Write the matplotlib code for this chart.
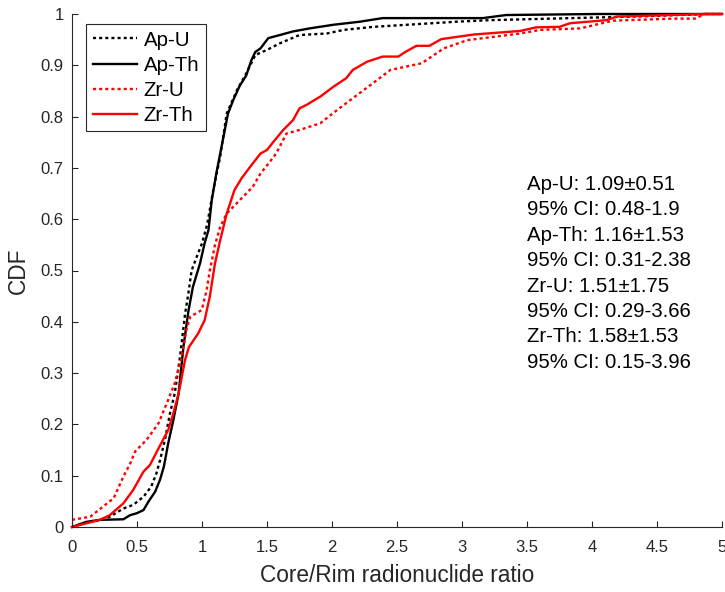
import matplotlib
matplotlib.use("Agg")
import matplotlib.pyplot as plt

plt.rcParams['font.family'] = ['Liberation Sans', 'DejaVu Sans']

# CDF curves (x = core/rim ratio, y = CDF)
ap_u_x = [0, 0.1, 0.2, 0.29, 0.395, 0.47, 0.55, 0.61, 0.65, 0.677, 0.715, 0.754, 0.79, 0.83,
          0.87, 0.895, 0.92, 0.96, 1.0, 1.04, 1.087, 1.14, 1.19, 1.27, 1.34, 1.41, 1.50, 1.60,
          1.75, 1.96, 2.09, 2.32, 2.96, 3.215, 4.32, 4.88, 5.0]
ap_u_y = [0, 0.008, 0.013, 0.02, 0.036, 0.043, 0.059, 0.079, 0.105, 0.13, 0.17, 0.222, 0.26, 0.33,
          0.416, 0.455, 0.50, 0.527, 0.553, 0.59, 0.657, 0.722, 0.806, 0.852, 0.884, 0.92, 0.93, 0.943,
          0.959, 0.962, 0.969, 0.975, 0.985, 0.988, 0.995, 1.0, 1.0]

ap_th_x = [0, 0.11, 0.215, 0.395, 0.446, 0.50, 0.55, 0.587, 0.64, 0.677, 0.707, 0.74, 0.78, 0.82,
           0.857, 0.895, 0.93, 0.985, 1.02, 1.05, 1.075, 1.11, 1.16, 1.20, 1.24, 1.29, 1.34, 1.38,
           1.41, 1.45, 1.51, 1.57, 1.70, 1.83, 2.01, 2.215, 2.39, 3.16, 3.34, 4.04, 5.0]
ap_th_y = [0, 0.01, 0.014, 0.015, 0.023, 0.027, 0.033, 0.049, 0.069, 0.092, 0.118, 0.163, 0.209, 0.26,
           0.351, 0.42, 0.468, 0.514, 0.553, 0.579, 0.637, 0.689, 0.754, 0.806, 0.832, 0.86, 0.88, 0.91,
           0.926, 0.933, 0.953, 0.957, 0.966, 0.972, 0.979, 0.985, 0.992, 0.992, 0.998, 1.0, 1.0]

zr_u_x = [0, 0.14, 0.24, 0.32, 0.395, 0.45, 0.485, 0.574, 0.665, 0.74, 0.79, 0.844, 0.88, 0.91,
          0.998, 1.036, 1.06, 1.10, 1.14, 1.19, 1.29, 1.39, 1.45, 1.51, 1.57, 1.65, 1.75, 1.91,
          2.04, 2.14, 2.24, 2.45, 2.69, 2.86, 3.04, 3.45, 3.6, 3.91, 4.16, 4.63, 4.80, 4.86, 5.0]
zr_u_y = [0.014, 0.02, 0.04, 0.056, 0.098, 0.125, 0.147, 0.17, 0.202, 0.248, 0.28, 0.332, 0.384, 0.41,
          0.423, 0.462, 0.50, 0.55, 0.585, 0.611, 0.637, 0.663, 0.689, 0.708, 0.728, 0.767, 0.774, 0.787,
          0.813, 0.832, 0.851, 0.891, 0.904, 0.933, 0.949, 0.962, 0.969, 0.972, 0.987, 0.991, 0.991, 1.0, 1.0]

zr_th_x = [0, 0.215, 0.29, 0.395, 0.47, 0.55, 0.6, 0.665, 0.74, 0.78, 0.82, 0.87, 0.90, 0.97,
           1.02, 1.06, 1.10, 1.14, 1.19, 1.25, 1.305, 1.37, 1.41, 1.45, 1.50, 1.55, 1.625, 1.70,
           1.75, 1.805, 1.91, 2.01, 2.11, 2.16, 2.27, 2.39, 2.51, 2.57, 2.65, 2.75, 2.84, 3.09,
           3.45, 3.57, 3.75, 3.83, 4.11, 4.19, 4.88, 5.0]
zr_th_y = [0, 0.014, 0.023, 0.046, 0.072, 0.108, 0.121, 0.153, 0.189, 0.222, 0.26, 0.326, 0.351, 0.377,
           0.403, 0.449, 0.514, 0.559, 0.611, 0.657, 0.680, 0.702, 0.715, 0.728, 0.735, 0.751, 0.774, 0.793,
           0.816, 0.823, 0.839, 0.858, 0.875, 0.891, 0.907, 0.917, 0.917, 0.927, 0.938, 0.938, 0.951, 0.96,
           0.967, 0.974, 0.975, 0.982, 0.988, 0.995, 1.0, 1.0]

stats_lines = ["Ap-U: 1.09\u00b10.51", "95% CI: 0.48-1.9",
               "Ap-Th: 1.16\u00b11.53", "95% CI: 0.31-2.38",
               "Zr-U: 1.51\u00b11.75", "95% CI: 0.29-3.66",
               "Zr-Th: 1.58\u00b11.53", "95% CI: 0.15-3.96"]

x_ticks = [0, 0.5, 1, 1.5, 2, 2.5, 3, 3.5, 4, 4.5, 5]
x_labels = ["0", "0.5", "1", "1.5", "2", "2.5", "3", "3.5", "4", "4.5", "5"]
y_ticks = [0, 0.1, 0.2, 0.3, 0.4, 0.5, 0.6, 0.7, 0.8, 0.9, 1]
y_labels = ["0", "0.1", "0.2", "0.3", "0.4", "0.5", "0.6", "0.7", "0.8", "0.9", "1"]

axis_col = '#262626'
dots = (0, (1.3, 1.3))

fig = plt.figure(figsize=(7.25, 5.92), dpi=100)
ax = fig.add_axes([72 / 725, 65 / 592, 650 / 725, 513 / 592])

ax.plot(ap_u_x, ap_u_y, color='black', lw=1.7, linestyle=dots, label='Ap-U', clip_on=False)
ax.plot(ap_th_x, ap_th_y, color='black', lw=1.7, label='Ap-Th', clip_on=False)
ax.plot(zr_u_x, zr_u_y, color='red', lw=1.7, linestyle=dots, label='Zr-U', clip_on=False)
ax.plot(zr_th_x, zr_th_y, color='red', lw=1.7, label='Zr-Th', clip_on=False)

ax.set_xlim(0, 5)
ax.set_ylim(0, 1)
ax.set_xticks(x_ticks)
ax.set_xticklabels(x_labels)
ax.set_yticks(y_ticks)
ax.set_yticklabels(y_labels)

for side in ['top', 'right']:
    ax.spines[side].set_visible(False)
for side in ['left', 'bottom']:
    ax.spines[side].set_color(axis_col)
    ax.spines[side].set_linewidth(0.8)

ax.tick_params(direction='in', length=4.5, width=0.8, color=axis_col,
               labelcolor=axis_col, labelsize=12)
ax.tick_params(axis='x', pad=9)
ax.tick_params(axis='y', pad=6)

ax.set_xlabel("Core/Rim radionuclide ratio", fontsize=16.3, color=axis_col, labelpad=7)
ax.set_ylabel("CDF", fontsize=16.3, color=axis_col, labelpad=8)

# stats block on the right
for i, line in enumerate(stats_lines):
    ax.text(3.5, 0.657 - i * 0.0495, line, fontsize=14.7, color='black',
            ha='left', va='baseline')

leg = ax.legend(loc='upper left', bbox_to_anchor=(14 / 650, 1 - 10 / 513),
                borderaxespad=0, fontsize=14.7, handlelength=2.2, handletextpad=0.3,
                labelspacing=0.3, borderpad=0.32, fancybox=False, framealpha=1)
leg.get_frame().set_edgecolor(axis_col)
leg.get_frame().set_linewidth(0.8)

fig.savefig("out.png", dpi=100)
